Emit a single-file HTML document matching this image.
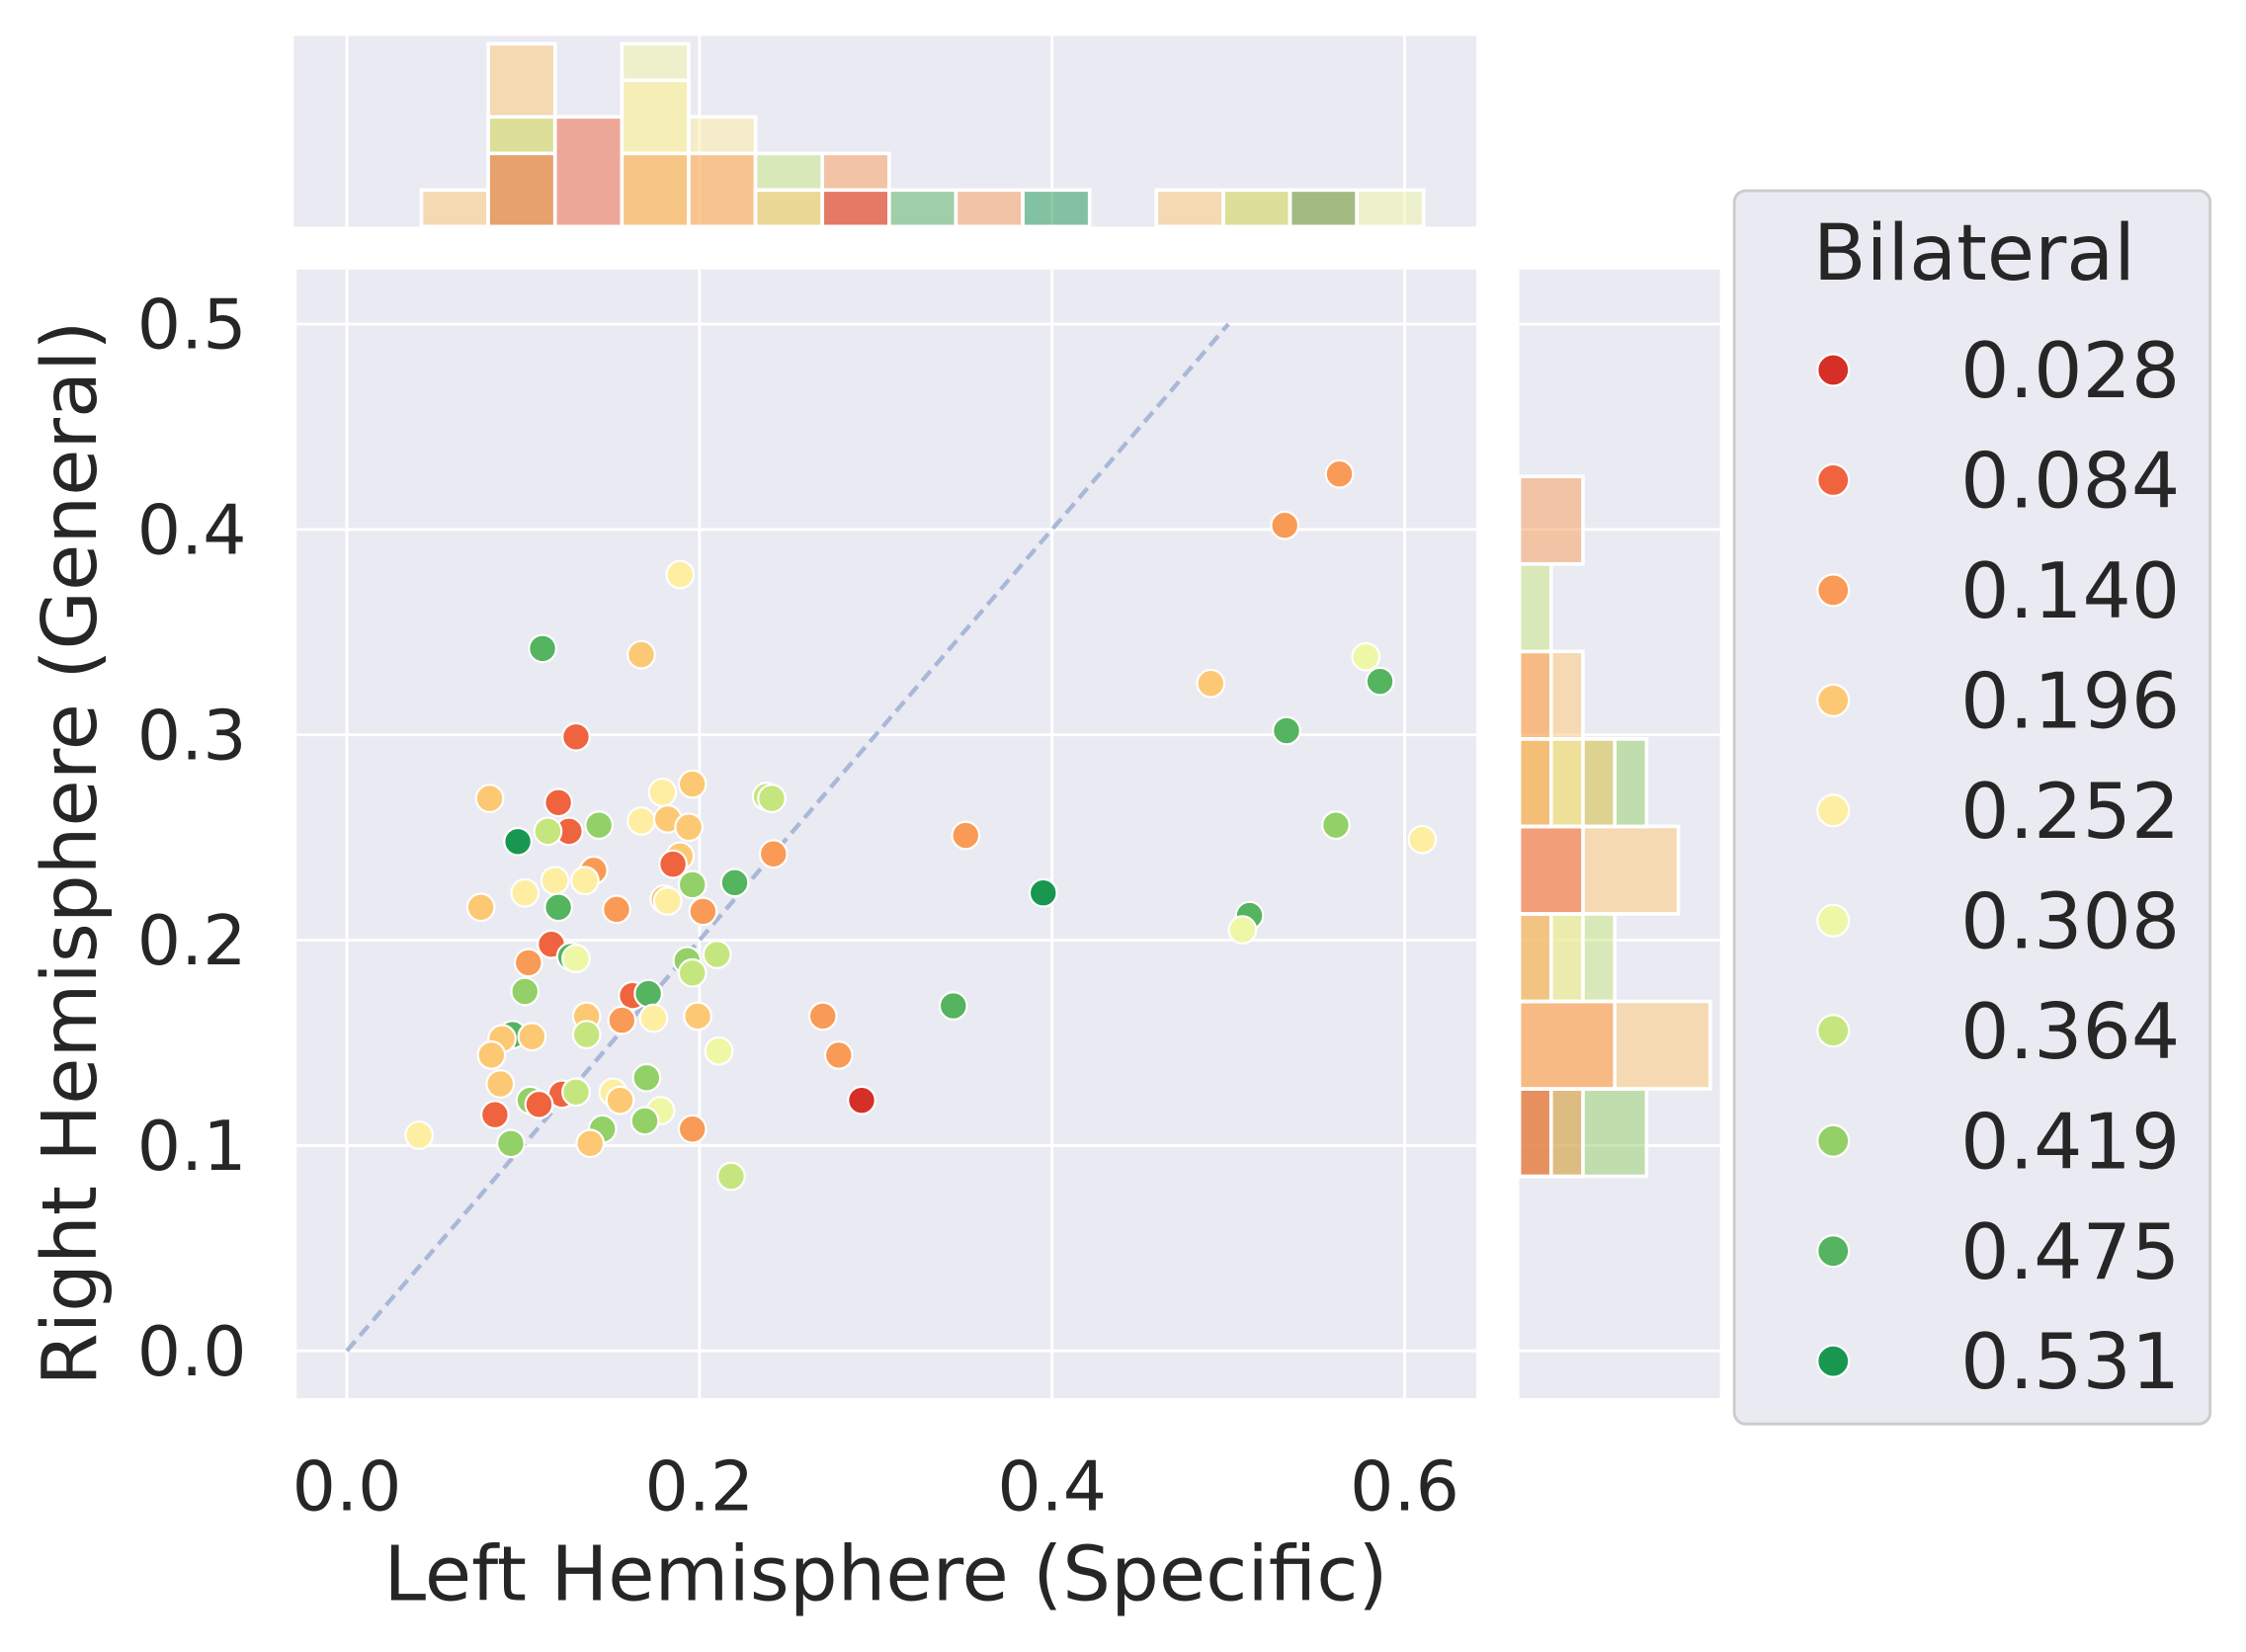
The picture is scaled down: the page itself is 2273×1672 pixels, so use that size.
<!DOCTYPE html>
<html><head><meta charset="utf-8"><style>
html,body{margin:0;padding:0;background:#fff;}
svg{display:block;font-family:"DejaVu Sans","Liberation Sans",sans-serif;}
</style></head><body>
<svg id="chart" width="2273" height="1672" viewBox="0 0 1567 1152" preserveAspectRatio="none" xmlns="http://www.w3.org/2000/svg">
<g id="mainG"></g>
<g id="topG"></g>
<g id="rightG"></g>
<g id="legendG"></g>
</svg>
<script>
const hueLabels=["0.028","0.084","0.140","0.196","0.252","0.308","0.364","0.419","0.475","0.531"];
const hueColors=["#d62f27","#ef633f","#f99b56","#fdc874","#feeea2","#eef7a6","#c5e67e","#93d068","#54b45f","#199750"];
const xVals=[.563,.532,.490,.578,.586,.533,.561,.610,.512,.508,.395,.351,.344,.270,.279,.292,.189,.111,.167,.130,.081,.120,.126,.114,.143,.097,.179,.196,.167,.182,.194,.238,.241,.189,.185,.242,.140,.118,.135,.101,.076,.120,.153,.180,.182,.196,.220,.202,.116,.127,.130,.103,.193,.210,.196,.162,.171,.101,.156,.174,.199,.136,.136,.094,.088,.105,.082,.211,.087,.170,.122,.130,.151,.155,.104,.109,.084,.178,.169,.145,.138,.093,.196,.041,.218];
const yVals=[.427,.402,.325,.338,.326,.302,.256,.249,.212,.205,.223,.251,.168,.163,.144,.122,.378,.342,.339,.299,.269,.267,.253,.253,.256,.248,.272,.276,.258,.259,.255,.270,.269,.241,.237,.242,.234,.229,.229,.223,.216,.216,.215,.220,.219,.227,.228,.214,.198,.192,.191,.189,.190,.193,.184,.173,.174,.175,.161,.162,.163,.163,.154,.154,.152,.153,.144,.146,.130,.133,.125,.126,.126,.122,.122,.120,.115,.117,.112,.108,.101,.101,.108,.105,.085];
const hueIdx=[2,2,3,5,8,8,7,4,8,5,9,2,8,2,2,0,4,8,3,1,3,1,1,6,7,9,4,3,4,3,3,6,6,3,1,2,2,4,4,4,3,8,2,3,4,7,8,2,1,8,5,2,7,6,6,1,8,7,2,4,3,3,6,8,3,3,3,5,3,7,1,6,4,3,7,1,1,5,7,7,3,7,2,4,6];
const xTicks=[0.0,0.2,0.4,0.6];
const yTicks=[0.0,0.1,0.2,0.3,0.4,0.5];
const topBin=  [0,1,1,1,2,3,3,3,4,4,5,5,6,6,7,8,9,11,12,12,13,13,14];
const topHue=  [3,3,6,1,1,5,4,2,4,2,6,3,2,0,8,2,9,3,3,6,2,8,5];
const topCount=[1,5,3,2,3,5,4,2,3,2,2,1,2,1,1,1,1,1,1,1,1,1,1];
const rightBin=  [0,0,0,1,1,2,2,2,3,3,4,4,4,4,5,5,6,7];
const rightHue=  [7,2,1,3,2,6,4,2,3,1,7,3,4,2,3,2,6,2];
const rightCount=[4,2,1,6,3,3,2,1,5,2,4,3,2,1,2,1,1,2];

const NS="http://www.w3.org/2000/svg";
function mk(tag,attrs,parent,txt){const e=document.createElementNS(NS,tag);for(const k in attrs)e.setAttribute(k,attrs[k]);if(txt!==undefined)e.textContent=txt;parent.appendChild(e);return e;}
const sx=v=>242+v*1230, sy=v=>942-v*1432;
const BG="#eaeaf2";
const gMain=document.getElementById('mainG');
let r=mk('rect',{x:207,y:188,width:823,height:787,fill:BG},gMain);

xTicks.forEach(t=>{
 let l=mk('line',{x1:sx(t),x2:sx(t),y1:188,y2:975,stroke:'#fff','stroke-width':2},gMain);
 
 let tx=mk('text',{x:sx(t),y:1053,'font-size':48,fill:'#262626','text-anchor':'middle'},gMain,t.toFixed(1));
 
});
yTicks.forEach(t=>{
 let l=mk('line',{x1:207,x2:1030,y1:sy(t),y2:sy(t),stroke:'#fff','stroke-width':2},gMain);
 
 let tx=mk('text',{x:172,y:sy(t)+17,'font-size':48,fill:'#262626','text-anchor':'end'},gMain,t.toFixed(1));
 
});
let d=mk('line',{x1:sx(0),y1:sy(0),x2:sx(0.5),y2:sy(0.5),stroke:'#a9b8d8','stroke-width':3,'stroke-dasharray':'9,5'},gMain);

xVals.forEach((x,i)=>{
 let c=mk('circle',{cx:sx(x),cy:sy(yVals[i]),r:9.5,fill:hueColors[hueIdx[i]],stroke:'#fff','stroke-width':1.5},gMain);
 
});
let xl=mk('text',{x:618,y:1116,'font-size':53,fill:'#262626','text-anchor':'middle'},gMain,'Left Hemisphere (Specific)');

let yl=mk('text',{x:0,y:0,'font-size':53,fill:'#262626','text-anchor':'middle',transform:'translate(67,595) rotate(-90)'},gMain,'Right Hemisphere (General)');


const gTop=document.getElementById('topG');
let tb=mk('rect',{x:205,y:25,width:825,height:133,fill:BG},gTop);

xTicks.forEach(t=>{let l=mk('line',{x1:sx(t),x2:sx(t),y1:25,y2:158,stroke:'#fff','stroke-width':2},gTop);
 });
const xb0=0.0423,xbw=0.0379,cntUnitTop=25.5;
topBin.forEach((b,i)=>{
 const c=topCount[i];
 let rr=mk('rect',{x:sx(xb0+b*xbw),y:158-c*cntUnitTop,width:xbw*1230,height:c*cntUnitTop,fill:hueColors[topHue[i]],'fill-opacity':0.5,stroke:'#fff','stroke-width':2.5},gTop);
 
});
const gRight=document.getElementById('rightG');
let rb=mk('rect',{x:1060,y:188,width:140,height:787,fill:BG},gRight);

yTicks.forEach(t=>{let l=mk('line',{x1:1060,x2:1200,y1:sy(t),y2:sy(t),stroke:'#fff','stroke-width':2},gRight);
 });
const yb0=0.085,ybw=0.0426,cntUnitRight=22.2;
rightBin.forEach((b,i)=>{
 const c=rightCount[i];
 let rr=mk('rect',{x:1060,y:sy(yb0+(b+1)*ybw),width:c*cntUnitRight,height:ybw*1432,fill:hueColors[rightHue[i]],'fill-opacity':0.5,stroke:'#fff','stroke-width':2.5},gRight);
 
});
const gLeg=document.getElementById('legendG');
let box=mk('rect',{x:1210,y:133,width:332,height:860,rx:8,fill:BG,stroke:'#cccccc','stroke-width':2},gLeg);

let lt=mk('text',{x:1265,y:195,'font-size':54,fill:'#262626'},gLeg,'Bilateral');

hueLabels.forEach((lab,i)=>{
 const y=258+i*76.8;
 let c=mk('circle',{cx:1279,cy:y,r:11,fill:hueColors[i],stroke:'#fff','stroke-width':1.5},gLeg);
 
 let t=mk('text',{x:1521,y:y+19,'font-size':53.5,fill:'#262626','text-anchor':'end'},gLeg,lab);
 
});
</script>
</body></html>
